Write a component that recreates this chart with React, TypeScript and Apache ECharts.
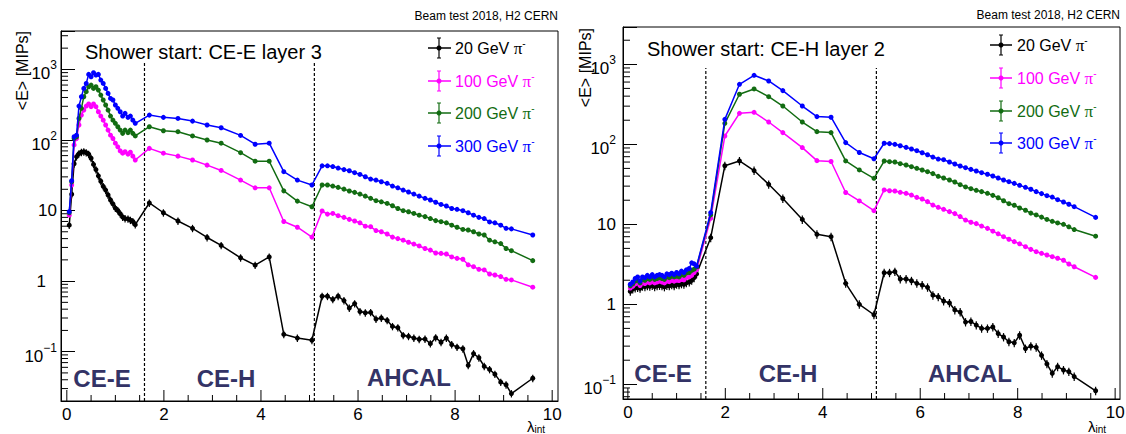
import React, { useEffect, useRef } from 'react';
import * as echarts from 'echarts';

// ---- layer positions (lambda_int) ----
const CEE_X = [0.05, 0.10, 0.15, 0.20, 0.25, 0.30, 0.35, 0.40, 0.45, 0.50, 0.55, 0.60, 0.65, 0.70, 0.75, 0.80, 0.85, 0.90, 0.95, 1.00, 1.05, 1.10, 1.15, 1.20, 1.26, 1.31, 1.36, 1.41];
const CEH_X = [1.70, 1.99, 2.29, 2.59, 2.89, 3.18, 3.58, 3.88, 4.17, 4.47, 4.75, 5.05];
const AHCAL_X = [5.26, 5.37, 5.48, 5.59, 5.71, 5.82, 5.93, 6.04, 6.15, 6.26, 6.37, 6.48, 6.60, 6.71, 6.82, 6.93, 7.04, 7.15, 7.26, 7.38, 7.49, 7.60, 7.71, 7.82, 7.93, 8.04, 8.16, 8.27, 8.38, 8.49, 8.60, 8.71, 8.82, 8.94, 9.05, 9.16, 9.60];
const LAYER_X = [...CEE_X, ...CEH_X, ...AHCAL_X];

// ---- series labels / colours ----
const ENERGY_LABELS = ['20 GeV ', '100 GeV ', '200 GeV ', '300 GeV '];
const COLORS = ['#000000', '#ff00ff', '#126c12', '#0000ff'];
const REL_ERR = [0.12, 0.05, 0.04, 0.02];

// ---- left panel: shower start CE-E layer 3 ----
const L_20 = [
  6.2, 17, 46, 58, 64, 67, 68, 66, 63, 55, 45, 38, 31, 26, 22, 19.5, 16.6, 14.1, 12.4, 10.8, 10.0, 9.0, 8.1, 7.7, 7.6, 7.3, 7.0, 6.3,
  12.8, 9.3, 7.1, 5.6, 4.15, 3.2, 2.14, 1.68, 2.2, 0.176, 0.156, 0.145,
  0.61, 0.61, 0.55, 0.61, 0.53, 0.415, 0.48, 0.37, 0.356, 0.36, 0.29, 0.30, 0.277, 0.228, 0.219, 0.17, 0.165, 0.156, 0.15, 0.151, 0.13, 0.158, 0.136, 0.156, 0.126, 0.116, 0.11, 0.064, 0.094, 0.082, 0.062, 0.056, 0.048, 0.037, 0.034, 0.0255, 0.042,
];
const L_100 = [
  8.6, 23, 85, 105, 163, 225, 265, 302, 323, 296, 323, 296, 251, 218, 191, 163, 138, 117, 105, 90, 80, 70, 65, 68, 63, 67, 59, 52,
  76, 65, 59, 52, 44, 37, 27, 21, 21, 7.0, 5.8, 4.2,
  9.85, 8.9, 9.1, 8.45, 8.0, 7.5, 7.1, 6.7, 6.0, 5.9, 5.2, 5.0, 4.65, 4.2, 4.0, 3.8, 3.55, 3.35, 3.15, 2.9, 2.75, 2.5, 2.47, 2.42, 2.2, 2.1, 2.04, 1.7, 1.6, 1.47, 1.44, 1.26, 1.22, 1.16, 1.06, 1.04, 0.82,
];
const L_200 = [
  9.3, 25.6, 105, 111, 202, 281, 410, 483, 568, 600, 538, 568, 509, 432, 368, 313, 265, 218, 191, 172, 154, 138, 124, 138, 127, 138, 124, 114,
  154, 135, 131, 114, 100, 90, 66, 50, 50, 19, 13.6, 11.3,
  23, 23, 22.2, 21.3, 20.1, 18.9, 18.1, 17.1, 16, 14.9, 13.8, 13.3, 12.6, 11.7, 10.7, 9.95, 9.6, 9.1, 8.6, 8.2, 7.7, 7.2, 6.95, 6.7, 6.2, 5.8, 5.4, 5.3, 5.0, 4.65, 4.5, 3.8, 3.6, 3.4, 2.9, 2.7, 1.95,
];
const L_300 = [
  9.6, 26.5, 111, 117, 302, 410, 538, 633, 850, 787, 897, 831, 850, 706, 633, 538, 457, 388, 368, 313, 281, 251, 218, 238, 209, 218, 191, 172,
  225, 209, 202, 185, 163, 149, 116, 87, 90, 35.5, 27, 23,
  43, 43, 42, 40, 38, 36.6, 34.4, 32.5, 30.1, 27.9, 27, 25.6, 24.3, 22.2, 21, 19.5, 18.3, 17.1, 16, 14.9, 14.1, 13.1, 12.2, 11.6, 10.7, 10.4, 9.95, 9.3, 8.6, 8.0, 7.7, 6.9, 6.7, 6.2, 5.6, 5.5, 4.5,
];

// ---- right panel: shower start CE-H layer 2 ----
const R_20 = [
  1.45, 1.55, 1.6, 1.62, 1.58, 1.68, 1.66, 1.7, 1.68, 1.72, 1.66, 1.7, 1.72, 1.7, 1.65, 1.72, 1.7, 1.75, 1.7, 1.78, 1.75, 1.8, 1.78, 1.85, 1.9, 2.0, 2.15, 2.4,
  6.8, 54, 62, 47, 31.6, 21, 11.5, 7.5, 7.0, 1.83, 1.0, 0.74,
  2.48, 2.48, 2.56, 2.07, 2.07, 1.97, 1.83, 1.74, 1.63, 1.3, 1.24, 1.1, 1.04, 0.85, 0.8, 0.6, 0.61, 0.55, 0.5, 0.5, 0.52, 0.43, 0.39, 0.34, 0.33, 0.41, 0.28, 0.3, 0.29, 0.23, 0.18, 0.137, 0.166, 0.151, 0.144, 0.125, 0.083,
];
const R_100 = [
  1.6, 1.68, 1.8, 1.85, 1.72, 1.85, 1.82, 1.9, 1.85, 1.92, 1.85, 1.9, 1.95, 1.9, 1.85, 1.95, 1.92, 2.0, 1.95, 2.0, 1.98, 2.05, 2.02, 2.15, 2.2, 2.3, 2.5, 2.7,
  11.9, 127, 244, 251, 190, 140, 91, 62.5, 61, 25, 19.6, 14.8,
  26.9, 26.3, 26.1, 25.1, 24.4, 23.2, 21.7, 20.7, 19.2, 17.4, 16.3, 15.4, 14.4, 13.6, 12.5, 11.3, 10.6, 10.2, 9.5, 8.9, 8.2, 7.6, 7.0, 6.5, 6.07, 5.7, 5.25, 4.86, 4.55, 4.34, 4.13, 3.94, 3.76, 3.55, 3.19, 2.95, 2.17,
];
const R_200 = [
  1.7, 1.8, 1.95, 2.0, 1.85, 2.05, 2.0, 2.1, 2.05, 2.15, 2.05, 2.1, 2.15, 2.1, 2.05, 2.2, 2.15, 2.25, 2.2, 2.25, 2.2, 2.35, 2.3, 2.45, 2.5, 2.65, 2.75, 2.95,
  13.1, 183, 422, 492, 394, 301, 190, 144, 140, 62, 47.8, 37.6,
  61.8, 60.7, 60.1, 57.3, 55.1, 52.5, 50.1, 47.7, 45.5, 43, 39.8, 37.9, 35.8, 33.8, 31.3, 29.3, 27.9, 26.6, 25.6, 24.4, 23, 21.5, 19.7, 18.1, 17.3, 16, 15, 13.8, 13.1, 12.3, 11.5, 10.9, 10.4, 10, 9.3, 8.6, 7.1,
];
const R_300 = [
  1.78, 1.9, 2.1, 2.2, 1.95, 2.2, 2.15, 2.3, 2.2, 2.35, 2.2, 2.3, 2.35, 2.3, 2.2, 2.4, 2.35, 2.45, 2.35, 2.5, 2.4, 2.6, 2.5, 2.7, 2.8, 3.3, 3.2, 3.0,
  14, 205, 562, 729, 619, 469, 301, 222, 218, 105, 79, 66,
  103, 102, 100, 96, 91.6, 87.3, 83.2, 78.5, 74.1, 69.3, 65.4, 64.2, 60.1, 56.8, 53.6, 51, 48.6, 46.4, 44.2, 42.2, 40.2, 37.9, 35.8, 34.1, 32.5, 30.7, 29, 27.4, 25.6, 24.2, 22.8, 21.9, 20.3, 19, 17.8, 16.6, 12.2,
];

const LEFT_SERIES = [L_20, L_100, L_200, L_300];
const RIGHT_SERIES = [R_20, R_100, R_200, R_300];

// ---- axes / annotations ----
const X_TICKS = [0, 0.5, 1, 1.5, 2, 2.5, 3, 3.5, 4, 4.5, 5, 5.5, 6, 6.5, 7, 7.5, 8, 8.5, 9, 9.5, 10];
const X_TICK_LABELS = ['0', '2', '4', '6', '8', '10'];
const Y_MINOR_MANTISSA = [2, 3, 4, 5, 6, 7, 8, 9];
const Y_DECADES = [-2, -1, 0, 1, 2, 3];
const DETECTOR_BOUNDARIES = [1.6, 5.1];
const REGION_LABELS = ['CE-E', 'CE-H', 'AHCAL'];
const PANEL_TITLES = ['Shower start: CE-E layer 3', 'Shower start: CE-H layer 2'];
const BEAM_TEXT = 'Beam test 2018, H2 CERN';

const FONT = '"Liberation Sans", Arial, Helvetica, sans-serif';

const PANELS = [
  {
    data: LEFT_SERIES, title: PANEL_TITLES[0],
    grid: { left: 61, top: 31, width: 497, height: 370 },
    xMin: -0.12, xMax: 10.12, yMin: 0.02, yMax: 3500, dashTop: 1230, onePad: 11, labelMargin: 4,
    titlePos: [85, 52], beamPos: [558, 16], yTitlePos: [22, 31], xTitlePos: [527, 426],
    legend: { x1: 428, xc: 439, x2: 451, tx: 455, ys: [48, 81, 113, 146] },
    regions: [[102, 378], [226, 378], [409, 377]],
  },
  {
    data: RIGHT_SERIES, title: PANEL_TITLES[1],
    grid: { left: 623, top: 27, width: 497, height: 372 },
    xMin: -0.1, xMax: 10.1, yMin: 0.0655, yMax: 2927, dashTop: 900, onePad: 0, labelMargin: 7,
    titlePos: [647, 48.5], beamPos: [1120, 15], yTitlePos: [585, 28], xTitlePos: [1088, 426],
    legend: { x1: 990, xc: 1001, x2: 1012, tx: 1017, ys: [45, 78, 111, 143] },
    regions: [[663, 373], [788, 373], [970, 373]],
  },
];

const yLabel = (v: number) => {
  const l = Math.log10(v);
  const k = Math.round(l);
  if (Math.abs(l - k) > 1e-6) return '';
  if (k === 0) return '{o|1}';
  if (k === 1) return '{m|10}';
  return `{b|10}{s|${k < 0 ? '\u2212' + -k : k}}`;
};

const makeRich = (onePad: number) => ({
  b: { fontSize: 17, fontFamily: FONT, color: '#000', lineHeight: 26, verticalAlign: 'bottom' },
  s: { fontSize: 12, fontFamily: FONT, color: '#000', lineHeight: 26, verticalAlign: 'top', padding: [3, 0, 0, 0] },
  m: { fontSize: 17, fontFamily: FONT, color: '#000', lineHeight: 20 },
  o: { fontSize: 17, fontFamily: FONT, color: '#000', lineHeight: 20, padding: [0, onePad, 0, 0] },
});

function buildOption() {
  const grids: any[] = [];
  const xAxes: any[] = [];
  const yAxes: any[] = [];
  const series: any[] = [];
  const graphics: any[] = [];

  PANELS.forEach((P, pi) => {
    grids.push({
      ...P.grid, show: true, borderColor: '#000', borderWidth: 1,
      backgroundColor: 'transparent', containLabel: false, outerBoundsMode: 'none',
    });
    xAxes.push({
      type: 'value', gridIndex: pi, min: P.xMin, max: P.xMax, position: 'bottom',
      axisLine: { show: true, onZero: false, lineStyle: { color: '#000', width: 1 } },
      axisTick: { show: false },
      axisLabel: { show: false },
      splitLine: { show: false },
    });
    yAxes.push({
      type: 'log', logBase: 10, gridIndex: pi, min: P.yMin, max: P.yMax,
      axisLine: { show: true, onZero: false, lineStyle: { color: '#000', width: 1 } },
      axisTick: { show: true, inside: true, length: 14, lineStyle: { color: '#000', width: 1 } },
      axisLabel: { show: true, margin: P.labelMargin, formatter: yLabel, rich: makeRich(P.onePad), color: '#000' },
      splitLine: { show: false },
    });

    const xi = pi;
    // x ticks and labels, placed through the axis scale
    series.push({
      type: 'custom', xAxisIndex: xi, yAxisIndex: pi, silent: true, z: 1, clip: false,
      data: X_TICKS.map((v) => [v, P.yMin]),
      renderItem: (params: any, api: any) => {
        const v = api.value(0);
        const p = api.coord([v, api.value(1)]);
        const lab = String(Math.round(v));
        const major = Math.abs(v - Math.round(v)) < 1e-6 && X_TICK_LABELS.includes(lab);
        const children: any[] = [
          { type: 'line', shape: { x1: p[0], y1: p[1], x2: p[0], y2: p[1] - (major ? 11 : 6) }, style: { stroke: '#000', lineWidth: 1 } },
        ];
        if (major) {
          children.push({
            type: 'text', x: p[0], y: p[1] + 5,
            style: { text: lab, fontSize: 17, fontFamily: FONT, fill: '#000', align: 'center', verticalAlign: 'top' },
          });
        }
        return { type: 'group', children };
      },
    });
    // minor log ticks
    const minor: number[][] = [];
    Y_DECADES.forEach((k) => Y_MINOR_MANTISSA.forEach((m) => {
      const v = m * Math.pow(10, k);
      if (v > P.yMin * 1.001 && v < P.yMax) minor.push([P.xMin, v]);
    }));
    series.push({
      type: 'custom', xAxisIndex: xi, yAxisIndex: pi, silent: true, z: 1, clip: false,
      data: minor,
      renderItem: (params: any, api: any) => {
        const p = api.coord([api.value(0), api.value(1)]);
        return { type: 'line', shape: { x1: p[0], y1: p[1], x2: p[0] + 7, y2: p[1] }, style: { stroke: '#000', lineWidth: 1 } };
      },
    });
    // detector boundaries
    DETECTOR_BOUNDARIES.forEach((bx) => {
      series.push({
        type: 'line', xAxisIndex: xi, yAxisIndex: pi, silent: true, z: 1, symbol: 'none',
        data: [[bx, P.yMin], [bx, P.dashTop]],
        lineStyle: { color: '#000', width: 1.2, type: [3, 2] },
      });
    });
    // data
    P.data.forEach((vals, k) => {
      const pts = LAYER_X.map((x, i) => [x, vals[i]]);
      const c = COLORS[k];
      const e = REL_ERR[k];
      series.push({
        type: 'custom', xAxisIndex: xi, yAxisIndex: pi, silent: true, z: 2,
        data: pts,
        renderItem: (params: any, api: any) => {
          const x = api.value(0), y = api.value(1);
          const lo = api.coord([x, y * (1 - e)]);
          const hi = api.coord([x, y * (1 + e)]);
          return { type: 'line', shape: { x1: lo[0], y1: lo[1], x2: hi[0], y2: hi[1] }, style: { stroke: c, lineWidth: 1.2 } };
        },
      });
      series.push({
        type: 'line', name: ENERGY_LABELS[k], xAxisIndex: xi, yAxisIndex: pi, z: 3 + k, silent: true,
        data: pts, symbol: 'circle', symbolSize: 5, showSymbol: true,
        lineStyle: { color: c, width: 1.5 }, itemStyle: { color: c },
      });
    });

    // annotations
    graphics.push({
      type: 'text', x: P.beamPos[0], y: P.beamPos[1], z: 10,
      style: { text: BEAM_TEXT, fontSize: 12, fontFamily: FONT, fill: '#000', align: 'right', textAlign: 'right', verticalAlign: 'middle', textVerticalAlign: 'middle' },
    });
    graphics.push({
      type: 'text', x: P.titlePos[0], y: P.titlePos[1], z: 10,
      style: { text: P.title, fontSize: 20, fontFamily: FONT, fill: '#000', align: 'left', verticalAlign: 'middle' },
    });
    graphics.push({
      type: 'text', x: P.yTitlePos[0], y: P.yTitlePos[1], rotation: Math.PI / 2, z: 10,
      style: { text: '<E> [MIPs]', fontSize: 16, fontFamily: FONT, fill: '#000', align: 'right', textAlign: 'right', verticalAlign: 'middle', textVerticalAlign: 'middle' },
    });
    graphics.push({
      type: 'text', x: P.xTitlePos[0], y: P.xTitlePos[1], z: 10,
      style: {
        text: '{l|λ}{i|int}', align: 'left', verticalAlign: 'middle', fill: '#000',
        rich: {
          l: { fontSize: 15, fontFamily: FONT, fill: '#000', lineHeight: 16, verticalAlign: 'middle' },
          i: { fontSize: 10, fontFamily: FONT, fill: '#000', lineHeight: 16, verticalAlign: 'bottom' },
        },
      },
    });
    P.regions.forEach((r, ri) => {
      graphics.push({
        type: 'text', x: r[0], y: r[1], z: 10,
        style: { text: REGION_LABELS[ri], fontSize: 24, fontWeight: 'bold', fontFamily: FONT, fill: '#333366', align: 'center', textAlign: 'center', verticalAlign: 'middle', textVerticalAlign: 'middle' },
      });
    });
    const L = P.legend;
    ENERGY_LABELS.forEach((lab, k) => {
      const y = L.ys[k];
      const c = COLORS[k];
      graphics.push({ type: 'line', z: 10, shape: { x1: L.x1, y1: y, x2: L.x2, y2: y }, style: { stroke: c, lineWidth: 1.5 } });
      graphics.push({ type: 'line', z: 10, shape: { x1: L.xc, y1: y - 10, x2: L.xc, y2: y + 10 }, style: { stroke: c, lineWidth: 1.2 } });
      graphics.push({ type: 'line', z: 10, shape: { x1: L.xc - 2, y1: y - 10, x2: L.xc + 2, y2: y - 10 }, style: { stroke: c, lineWidth: 1 } });
      graphics.push({ type: 'line', z: 10, shape: { x1: L.xc - 2, y1: y + 10, x2: L.xc + 2, y2: y + 10 }, style: { stroke: c, lineWidth: 1 } });
      graphics.push({ type: 'circle', z: 10, shape: { cx: L.xc, cy: y, r: 2.5 }, style: { fill: c } });
      graphics.push({
        type: 'text', x: L.tx, y, z: 10,
        style: {
          text: `{t|${lab}}{p|π}{u|-}`, fill: c, align: 'left', verticalAlign: 'middle',
          rich: {
            t: { fontSize: 16, fontFamily: FONT, fill: c, lineHeight: 20, verticalAlign: 'middle' },
            p: { fontSize: 17, fontFamily: '"Liberation Serif", serif', fill: c, lineHeight: 20, verticalAlign: 'middle' },
            u: { fontSize: 10, fontFamily: FONT, fill: c, lineHeight: 20, verticalAlign: 'top' },
          },
        },
      });
    });
  });

  return {
    animation: false,
    backgroundColor: '#ffffff',
    textStyle: { fontFamily: FONT },
    grid: grids,
    xAxis: xAxes,
    yAxis: yAxes,
    series,
    graphic: graphics,
  };
}

export default function App() {
  const ref = useRef<HTMLDivElement>(null);
  useEffect(() => {
    if (!ref.current) return;
    const chart = echarts.init(ref.current, undefined, { renderer: 'svg' });
    chart.setOption(buildOption() as any);
    return () => chart.dispose();
  }, []);
  return (
    <div
      ref={ref}
      style={{ position: 'absolute', left: 0, top: 0, width: 1126, height: 434, background: '#fff' }}
    />
  );
}
